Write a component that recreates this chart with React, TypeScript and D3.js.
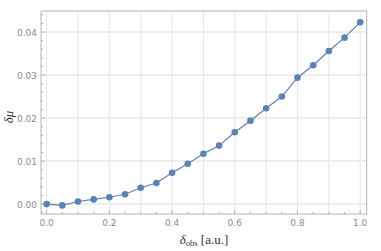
import { useEffect, useRef } from "react"
import * as d3 from "d3"

const W = 381
const H = 251

// δobs values and measured δμ
const xValues = [0, 0.05, 0.1, 0.15, 0.2, 0.25, 0.3, 0.35, 0.4, 0.45, 0.5, 0.55, 0.6, 0.65, 0.7, 0.75, 0.8, 0.85, 0.9, 0.95, 1.0]
const yValues = [0.0, -0.0003, 0.0006, 0.0011, 0.0016, 0.0023, 0.0038, 0.0049, 0.0073, 0.0094, 0.0117, 0.0136, 0.0167, 0.0194, 0.0223, 0.025, 0.0294, 0.0323, 0.0356, 0.0387, 0.0423]

const xTicks = [0, 0.2, 0.4, 0.6, 0.8, 1.0]
const yTicks = [0, 0.01, 0.02, 0.03, 0.04]
const xGrid = [0, 0.1, 0.2, 0.3, 0.4, 0.5, 0.6, 0.7, 0.8, 0.9, 1.0]

const BLUE = "#5e81b5"
const AXIS = "#b3b3b3"
const LABEL = "#8c8c8c"

export default function App() {
  const ref = useRef<SVGSVGElement>(null)

  useEffect(() => {
    const svg = d3.select(ref.current)
    svg.selectAll("*").remove()

    const left = 41, right = 366.7, top = 11, bottom = 214
    const x = d3.scaleLinear().domain([-0.018, 1.0207]).range([left, right])
    const y = d3.scaleLinear().domain([-0.0023, 0.0449]).range([bottom, top])

    const g = svg.append("g")

    // grid
    g.selectAll(".vg").data(xGrid).join("line")
      .attr("x1", (d) => x(d)).attr("x2", (d) => x(d))
      .attr("y1", top).attr("y2", bottom)
      .attr("stroke", "#e6e6e6").attr("stroke-width", 1)
    g.selectAll(".hg").data(yTicks).join("line")
      .attr("x1", left).attr("x2", right)
      .attr("y1", (d) => y(d)).attr("y2", (d) => y(d))
      .attr("stroke", "#e8e8e8").attr("stroke-width", 1.5)

    // frame
    g.append("rect")
      .attr("x", left).attr("y", top)
      .attr("width", right - left).attr("height", bottom - top)
      .attr("fill", "none").attr("stroke", AXIS).attr("stroke-width", 1)

    // x ticks
    const xMinor = d3.range(0, 1.0001, 0.05)
    g.selectAll(".xt").data(xMinor).join("line")
      .attr("x1", (d) => x(d)).attr("x2", (d) => x(d))
      .attr("y1", bottom).attr("y2", (_d, i) => bottom - (i % 4 === 0 ? 4 : 2))
      .attr("stroke", AXIS)
    g.selectAll(".xl").data(xTicks).join("text")
      .attr("x", (d) => x(d)).attr("y", bottom + 12)
      .attr("text-anchor", "middle")
      .attr("font-family", "DejaVu Sans, sans-serif").attr("font-size", 9)
      .attr("fill", LABEL)
      .text((d) => d3.format(".1f")(d))

    // y ticks
    const yMinor = d3.range(-0.002, 0.0441, 0.002)
    g.selectAll(".yt").data(yMinor).join("line")
      .attr("x1", left).attr("x2", (d) => left + (Math.abs(Math.round(d * 500) % 5) === 0 ? 4 : 2))
      .attr("y1", (d) => y(d)).attr("y2", (d) => y(d))
      .attr("stroke", AXIS)
    g.selectAll(".yl").data(yTicks).join("text")
      .attr("x", left - 4).attr("y", (d) => y(d) + 3.5)
      .attr("text-anchor", "end")
      .attr("font-family", "DejaVu Sans, sans-serif").attr("font-size", 9)
      .attr("fill", LABEL)
      .text((d) => d3.format(".2f")(d))

    // line and points
    const pts = xValues.map((v, i) => [v, yValues[i]] as [number, number])
    const line = d3.line<[number, number]>().x((d) => x(d[0])).y((d) => y(d[1]))
    g.append("path").attr("d", line(pts) ?? "")
      .attr("fill", "none").attr("stroke", BLUE).attr("stroke-width", 1.2)
    g.selectAll(".pt").data(pts).join("circle")
      .attr("cx", (d) => x(d[0])).attr("cy", (d) => y(d[1]))
      .attr("r", 3.3).attr("fill", BLUE)

    // axis labels
    const xl = g.append("text")
      .attr("x", 204).attr("y", 244)
      .attr("text-anchor", "middle")
      .attr("font-family", "Liberation Serif, serif").attr("font-size", 13)
      .attr("fill", "#333")
    xl.append("tspan").attr("font-style", "italic").text("δ")
    xl.append("tspan").attr("font-size", 8.5).attr("dy", 2).text("obs")
    xl.append("tspan").attr("dy", -2).text(" [a.u.]")

    g.append("text")
      .attr("transform", `translate(13, ${117}) rotate(-90)`)
      .attr("text-anchor", "middle")
      .attr("font-family", "Liberation Serif, serif").attr("font-size", 13)
      .attr("font-style", "italic")
      .attr("fill", "#333")
      .text("δμ")
  }, [])

  return (
    <svg ref={ref} width={W} height={H} style={{ position: "absolute", left: 0, top: 0 }} />
  )
}
